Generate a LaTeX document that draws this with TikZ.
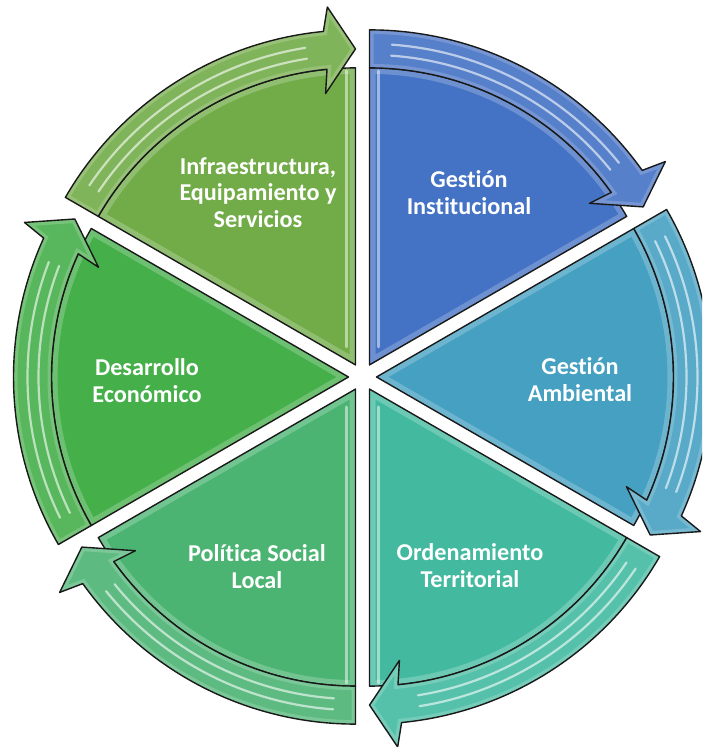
\documentclass[tikz,border=0pt]{standalone}
\usepackage{fontspec}
\setmainfont{Carlito}[Ligatures={NoCommon}]
\definecolor{cInfra}{HTML}{72AC48}
\definecolor{cInst}{HTML}{4472C4}
\definecolor{cAmb}{HTML}{45A0C2}
\definecolor{cOrd}{HTML}{43BAA0}
\definecolor{cPol}{HTML}{4BB473}
\definecolor{cDes}{HTML}{45AF4A}
\tikzset{
  outline/.style={draw=black!90, line width=1.4pt, line join=round},
  glow/.style={white, opacity=0.22, line width=12pt},
  bandstripe/.style={white, opacity=0.6, line width=2.2pt, line cap=round},
  edgestripe/.style={white, opacity=0.5, line width=3pt, line cap=round},
  lbl/.style={text=white, font=\fontsize{24.2}{26.8}\selectfont\bfseries, align=center, inner sep=0pt}
}
\newcommand{\drawseg}[4]{%
  \begin{scope}[shift={(#1pt,#2pt)}]
    \pgfmathsetmacro{\segA}{#3}
    \pgfmathsetmacro{\segB}{#3-60}
    \pgfmathsetmacro{\segJ}{#3-60+5.5}
    \pgfmathsetmacro{\segO}{#3-60+4.5}
    \pgfmathsetmacro{\segI}{#3-60+6.3}
    \pgfmathsetmacro{\segS}{#3-4}
    \pgfmathsetmacro{\segE}{#3-60+9}
    % sector
    \path[fill=#4] (0pt,0pt) -- (\segA:297pt) arc[start angle=\segA, end angle=\segB, radius=297pt] -- cycle;
    \begin{scope}
      \clip (0pt,0pt) -- (\segA:297pt) arc[start angle=\segA, end angle=\segB, radius=297pt] -- cycle;
      \draw[glow] (0pt,0pt) -- (\segA:297pt) arc[start angle=\segA, end angle=\segB, radius=297pt] -- cycle;
    \end{scope}
    \draw[outline] (0pt,0pt) -- (\segA:297pt) arc[start angle=\segA, end angle=\segB, radius=297pt] -- cycle;
    % arrow band
    \path[fill=#4!90!white] (\segA:297pt) -- (\segA:335pt) arc[start angle=\segA, end angle=\segJ, radius=335pt]
      -- (\segO:359pt) -- (\segB:316pt) -- (\segI:273pt) -- (\segJ:297pt)
      arc[start angle=\segJ, end angle=\segA, radius=297pt] -- cycle;
    \begin{scope}
      \clip (\segA:297pt) -- (\segA:335pt) arc[start angle=\segA, end angle=\segJ, radius=335pt]
      -- (\segO:359pt) -- (\segB:316pt) -- (\segI:273pt) -- (\segJ:297pt)
      arc[start angle=\segJ, end angle=\segA, radius=297pt] -- cycle;
      \draw[glow, opacity=0.18, line width=8pt] (\segA:297pt) -- (\segA:335pt) arc[start angle=\segA, end angle=\segJ, radius=335pt]
      -- (\segO:359pt) -- (\segB:316pt) -- (\segI:273pt) -- (\segJ:297pt)
      arc[start angle=\segJ, end angle=\segA, radius=297pt] -- cycle;
    \end{scope}
    \draw[bandstripe] (\segS:310pt) arc[start angle=\segS, end angle=\segE, radius=310pt];
    \draw[bandstripe] (\segS:321pt) arc[start angle=\segS, end angle=\segE, radius=321pt];
    \draw[outline] (\segA:297pt) -- (\segA:335pt) arc[start angle=\segA, end angle=\segJ, radius=335pt]
      -- (\segO:359pt) -- (\segB:316pt) -- (\segI:273pt) -- (\segJ:297pt)
      arc[start angle=\segJ, end angle=\segA, radius=297pt] -- cycle;
  \end{scope}%
}
\begin{document}
\begin{tikzpicture}[x=1pt, y=1pt]
  \useasboundingbox (0,0) rectangle (702,747);
  \clip (0,0) rectangle (702,747);
  \fill[white] (0,0) rectangle (702,747);

  \drawseg{355.5}{382.1}{150}{cInfra}
  \drawseg{369.5}{382.1}{90}{cInst}
  \drawseg{376.5}{370}{30}{cAmb}
  \drawseg{369.5}{357.9}{-30}{cOrd}
  \drawseg{355.5}{357.9}{-90}{cPol}
  \drawseg{348.5}{370}{210}{cDes}

  % highlights along vertical edges
  \draw[edgestripe] (346.5,400) -- (346.5,676);
  \draw[edgestripe] (378.5,400) -- (378.5,676);
  \draw[edgestripe] (346.5,340) -- (346.5,64);
  \draw[edgestripe] (378.5,340) -- (378.5,64);

  \node[lbl] (infra) at (258,554.5) {Infraestructura,\\Equipamiento y\\Servicios};
  \node[lbl] (inst) at (469,554.5) {Gestión\\Institucional};
  \node[lbl] (amb) at (580,367) {Gestión\\Ambiental};
  \node[lbl] (ord) at (470,181.5) {Ordenamiento\\Territorial};
  \node[lbl] (pol) at (257,180.5) {Política Social\\Local};
  \node[lbl] (des) at (147,366.5) {Desarrollo\\Económico};
\end{tikzpicture}
\end{document}
